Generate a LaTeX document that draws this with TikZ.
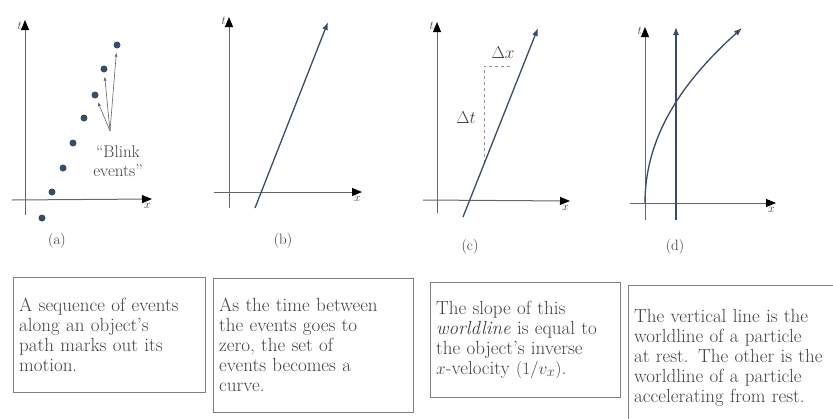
\documentclass[tikz,border=0pt]{standalone}
\usetikzlibrary{positioning}
\usetikzlibrary{shapes, arrows.meta}
\definecolor{inkblue}{RGB}{58,76,100}
\definecolor{axisgray}{RGB}{100,100,100}
\definecolor{textgray}{RGB}{65,65,65}
\tikzstyle{axisline} = [draw=black!60, line width=1pt, -{Stealth[length=10pt, width=8pt, inset=0pt, black]}]
\tikzstyle{wline}    = [draw=inkblue, line width=1.3pt, -{Latex[length=8pt, width=6pt]}]
\tikzstyle{pointer}  = [draw=axisgray, line width=0.6pt, -{Latex[length=4pt, width=3pt]}, shorten >=4pt]
\tikzstyle{dot}      = [circle, fill=inkblue, inner sep=0pt, minimum size=7pt]
\tikzstyle{axlabel}  = [text=textgray, font=\fontsize{12}{14}\selectfont, inner sep=1pt]
\tikzstyle{caption}  = [text=black!80, font=\fontsize{15}{17}\selectfont]
\tikzstyle{box}      = [rectangle, draw=black!50, anchor=north west, align=left,
                        inner xsep=6pt, text=textgray,
                        font=\fontsize{19}{20}\selectfont]

\begin{document}
\begin{tikzpicture}[x=1pt, y=-1pt]
\useasboundingbox (0,0) rectangle (833,418);
% (a) blink events
\coordinate (a t0) at (25,215);
\coordinate (a t1) at (25,20);
\coordinate (a x0) at (12,200);
\coordinate (a x1) at (152,199);
\draw [axisline] (a t0) -- (a t1);
\draw [axisline] (a x0) -- (a x1);
\node [axlabel, left=2pt of a t1, yshift=-6pt] (a tlab) {$t$};
\node [axlabel, below left=3pt and 0pt of a x1] (a xlab) {$x$};
\foreach \p [count=\i] in {(42,218),(52,192),(63,168),(73,143),(84,118),(95,95),(104,69),(117,45)}
  \node [dot] (dot\i) at \p {};
\node [text=textgray, align=center, font=\fontsize{17}{19}\selectfont] (blink) at (118,161) {``Blink\\events''};
\coordinate (blinktip) at (110,131);
\draw [pointer] (blinktip) -- (dot6);
\draw [pointer] (blinktip) -- (dot7);
\draw [pointer] (blinktip) -- (dot8);
\node [caption] (cap a) at (57,241) {(a)};
% (b) continuous worldline
\coordinate (b t0) at (229,208);
\coordinate (b t1) at (229,17);
\coordinate (b x0) at (214,192);
\coordinate (b x1) at (362,192);
\coordinate (b w0) at (255,208);
\coordinate (b w1) at (328,22);
\draw [axisline] (b t0) -- (b t1);
\draw [axisline] (b x0) -- (b x1);
\draw [wline] (b w0) -- (b w1);
\node [axlabel, left=2pt of b t1, yshift=-4pt] (b tlab) {$t$};
\node [axlabel, below left=3pt and 0pt of b x1] (b xlab) {$x$};
\node [caption] (cap b) at (283,241) {(b)};
% (c) slope of the worldline
\coordinate (c t0) at (437,213);
\coordinate (c t1) at (437,22);
\coordinate (c x0) at (423,200);
\coordinate (c x1) at (570,201);
\coordinate (c w0) at (463,217);
\coordinate (c w1) at (538,28);
\coordinate (c d0) at (484,163);
\coordinate (c d1) at (484,66);
\coordinate (c d2) at (512,66);
\draw [axisline] (c t0) -- (c t1);
\draw [axisline] (c x0) -- (c x1);
\draw [draw=axisgray!70, dashed, line width=0.7pt] (c d0) -- (c d1) -- (c d2);
\draw [wline] (c w0) -- (c w1);
\node [axlabel, left=2pt of c t1, yshift=-4pt] (c tlab) {$t$};
\node [axlabel, below left=3pt and 0pt of c x1] (c xlab) {$x$};
\node [text=textgray, font=\fontsize{16}{18}\selectfont] (dx) at (503,53) {$\Delta x$};
\node [text=textgray, font=\fontsize{16}{18}\selectfont] (dt) at (466,118) {$\Delta t$};
\node [caption] (cap c) at (470,247) {(c)};
% (d) rest and acceleration
\coordinate (d t0) at (645,220);
\coordinate (d t1) at (645,27);
\coordinate (d x0) at (630,203);
\coordinate (d x1) at (776,203);
\coordinate (d r0) at (676,220);
\coordinate (d r1) at (676,27);
\coordinate (d c1) at (742,28);
\draw [axisline] (d t0) -- (d t1);
\draw [axisline] (d x0) -- (d x1);
\draw [wline] (d r0) -- (d r1);
\draw [wline] (d x0 -| d t0) .. controls (645,130) and (690,75) .. (d c1);
\node [axlabel, left=2pt of d t1, yshift=-4pt] (d tlab) {$t$};
\node [axlabel, below left=3pt and 0pt of d x1] (d xlab) {$x$};
\node [caption] (cap d) at (675,247) {(d)};
% text boxes
\node [box, text width=180pt, minimum height=115pt] (box a) at (13,277)
  {A sequence of events\\ along an object's\\ path marks out its\\ motion.};
\node [box, text width=188pt, minimum height=134pt] (box b) at (213,278)
  {As the time between\\ the events goes to\\ zero, the set of\\ events becomes a\\ curve.};
\node [box, text width=178pt, minimum height=115pt] (box c) at (430,282)
  {The slope of this\\ \emph{worldline} is equal to\\ the object's inverse\\ $x$-velocity $(1/v_x)$.};
\node [box, text width=205pt, minimum height=145pt] (box d) at (628,285)
  {The vertical line is the\\ worldline of a particle\\ at rest. The other is the\\ worldline of a particle\\ accelerating from rest.};
\end{tikzpicture}
\end{document}
